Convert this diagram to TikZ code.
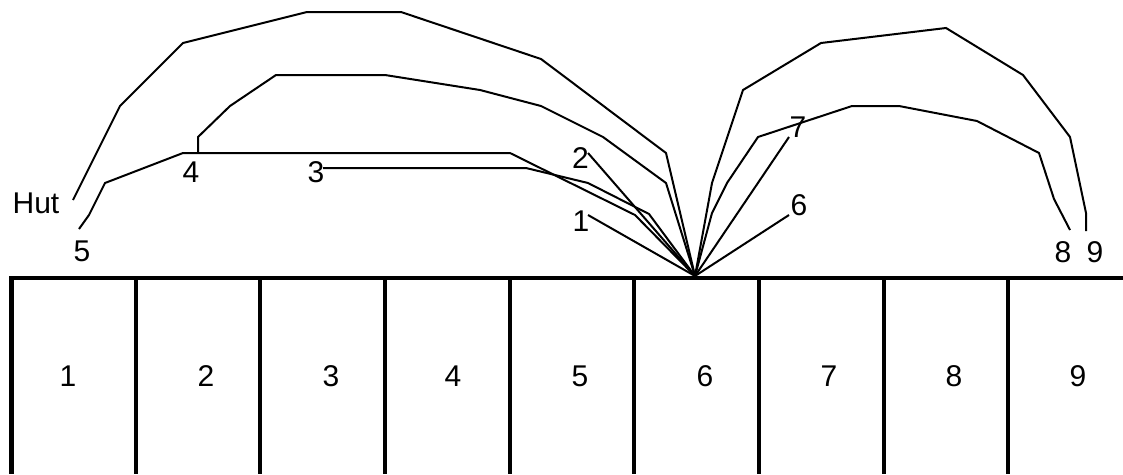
\documentclass[tikz,border=0pt]{standalone}
\usepackage{fontspec}
\setmainfont{Liberation Sans}
\begin{document}
\begin{tikzpicture}[x=1pt,y=-1pt,
  wire/.style={line width=2pt,line join=miter},
  boxline/.style={line width=4.5pt},
  lbl/.style={font=\fontsize{30}{30}\selectfont,inner sep=0pt}]
\useasboundingbox (0,0) rectangle (1123,474);
% labels
\node[lbl] (hut) at (36,203) {Hut};
\node[lbl] (l5) at (82,251) {5};
\node[lbl] (l4) at (191,172.5) {4};
\node[lbl] (l3) at (316,172.5) {3};
\node[lbl] (l2) at (580.5,158) {2};
\node[lbl] (l1) at (581,221) {1};
\node[lbl] (l7) at (798,127) {7};
\node[lbl] (l6) at (799,205) {6};
\node[lbl] (l8) at (1063,252) {8};
\node[lbl] (l9) at (1095,252) {9};
% end points
\coordinate (F) at (695,276);
\coordinate (hutS) at (73,200);
\coordinate (fiveS) at (79,229);
\coordinate (fourS) at (198,153);
\coordinate (threeS) at (323,168);
\coordinate (twoS) at (588,153);
\coordinate (oneS) at (588,215);
\coordinate (sevenS) at (789,137);
\coordinate (sixS) at (789,215);
\coordinate (eightS) at (1070,230);
\coordinate (nineS) at (1086,231);
% connectors
\draw[wire] (hutS) -- (120,106) -- (183,43) -- (307,12) -- (401,12) -- (541,59) -- (666,153) -- (F);
\draw[wire] (fourS) -- (198,137) -- (230,106) -- (276,75) -- (385,75) -- (480,90) -- (541,106) -- (603,137) -- (666,183) -- (F);
\draw[wire] (fiveS) -- (89,215) -- (105,183) -- (183,153) -- (510,153) -- (635,215) -- (F);
\draw[wire] (threeS) -- (526,168) -- (588,183) -- (649,214) -- (F);
\draw[wire] (twoS) -- (F);
\draw[wire] (oneS) -- (F);
\draw[wire] (F) -- (712,183) -- (743,90) -- (821,43) -- (946,28) -- (1023,75) -- (1070,137) -- (1086,213) -- (nineS);
\draw[wire] (F) -- (712,213) -- (727,183) -- (758,137) -- (852,106) -- (899,106) -- (977,121) -- (1039,153) -- (1054,199) -- (eightS);
\draw[wire] (F) -- (sevenS);
\draw[wire] (F) -- (sixS);
% boxes
\draw[boxline] (9,278) -- (1123,278);
\foreach \x in {11.5,136,260,385,510,634,759,884,1008}
  \draw[boxline] (\x,278) -- (\x,474);
\foreach \t/\x in {1/68,2/206,3/331,4/453,5/580,6/705,7/829,8/954,9/1078}
  \node[lbl] (c\t) at (\x,376) {\t};
\end{tikzpicture}
\end{document}
